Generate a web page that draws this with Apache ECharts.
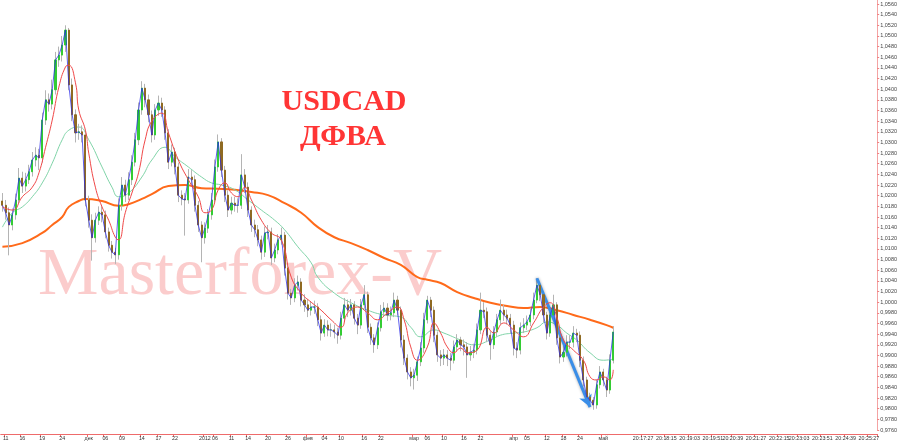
<!DOCTYPE html>
<html><head><meta charset="utf-8">
<script src="https://cdn.jsdelivr.net/npm/echarts@6/dist/echarts.min.js"></script>
<style>html,body{margin:0;padding:0;background:#fff}#c{width:900px;height:444px}</style>
</head><body><div id="c"></div>
<script>
// ---- data (H4 USDCAD) ----
const firstOpen = 1.0190;
const closes = [1.0182,1.0168,1.0145,1.0164,1.0192,1.0233,1.0218,1.0230,1.0245,1.0267,
1.0276,1.0271,1.0342,1.0380,1.0372,1.0399,1.0455,1.0464,1.0483,1.0511,
1.0408,1.0352,1.0318,1.0320,1.0314,1.0192,1.0154,1.0121,1.0154,1.0169,
1.0164,1.0132,1.0107,1.0094,1.0089,1.0182,1.0220,1.0201,1.0230,1.0263,
1.0305,1.0361,1.0402,1.0380,1.0352,1.0314,1.0361,1.0374,1.0361,1.0318,
1.0263,1.0282,1.0254,1.0201,1.0194,1.0192,1.0235,1.0230,1.0182,1.0145,
1.0121,1.0139,1.0164,1.0192,1.0254,1.0301,1.0248,1.0201,1.0173,1.0186,
1.0182,1.0182,1.0239,1.0216,1.0173,1.0145,1.0136,1.0117,1.0094,1.0130,
1.0132,1.0083,1.0098,1.0117,1.0126,1.0064,1.0017,1.0008,1.0032,1.0038,
1.0004,0.9995,0.9985,0.9991,0.9991,0.9967,0.9942,0.9957,0.9948,0.9948,
0.9944,0.9938,0.9970,0.9995,0.9985,0.9995,0.9970,0.9957,0.9995,1.0014,
0.9953,0.9933,0.9920,0.9952,0.9982,0.9989,0.9976,0.9980,1.0004,0.9985,
0.9929,0.9895,0.9869,0.9858,0.9863,0.9888,0.9914,0.9967,1.0004,0.9985,
0.9938,0.9901,0.9895,0.9901,0.9895,0.9891,0.9916,0.9929,0.9920,0.9916,
0.9901,0.9906,0.9910,0.9948,0.9985,0.9982,0.9938,0.9920,0.9944,0.9967,
0.9985,0.9976,0.9970,0.9957,0.9914,0.9910,0.9952,0.9957,0.9963,0.9976,
1.0004,1.0032,1.0014,0.9976,0.9942,0.9976,0.9995,0.9933,0.9897,0.9906,
0.9925,0.9925,0.9942,0.9938,0.9891,0.9854,0.9822,0.9816,0.9807,0.9845,
0.9869,0.9854,0.9835,0.9891,0.9944];
const highs = [1.0205,1.0192,1.0178,1.0176,1.0204,1.0252,1.0245,1.0243,1.0258,1.0282,
1.0291,1.0288,1.0356,1.0398,1.0392,1.0418,1.0470,1.0480,1.0500,1.0520,
1.0515,1.0420,1.0362,1.0335,1.0332,1.0322,1.0200,1.0165,1.0168,1.0180,
1.0180,1.0172,1.0140,1.0115,1.0102,1.0195,1.0235,1.0230,1.0244,1.0276,
1.0318,1.0375,1.0415,1.0410,1.0390,1.0360,1.0372,1.0388,1.0384,1.0368,
1.0325,1.0296,1.0290,1.0262,1.0210,1.0205,1.0250,1.0248,1.0238,1.0190,
1.0152,1.0150,1.0175,1.0205,1.0268,1.0315,1.0308,1.0256,1.0210,1.0198,
1.0198,1.0195,1.0278,1.0250,1.0225,1.0180,1.0155,1.0145,1.0125,1.0142,
1.0145,1.0140,1.0110,1.0128,1.0140,1.0132,1.0072,1.0025,1.0045,1.0050,
1.0045,1.0015,1.0005,1.0002,1.0003,0.9998,0.9975,0.9968,0.9966,0.9960,
0.9958,0.9952,0.9982,1.0008,1.0005,1.0006,1.0002,0.9978,1.0006,1.0032,
1.0020,0.9960,0.9940,0.9962,0.9995,1.0000,0.9998,0.9992,1.0018,1.0012,
0.9992,0.9938,0.9902,0.9878,0.9875,0.9898,0.9925,0.9980,1.0012,1.0010,
0.9992,0.9945,0.9910,0.9912,0.9910,0.9905,0.9928,0.9940,0.9935,0.9930,
0.9925,0.9918,0.9922,0.9960,1.0018,1.0000,0.9990,0.9945,0.9955,0.9978,
1.0005,0.9995,0.9986,0.9978,0.9965,0.9925,0.9962,0.9970,0.9975,0.9988,
1.0018,1.0045,1.0038,1.0020,0.9982,0.9990,1.0014,1.0000,0.9940,0.9918,
0.9938,0.9938,0.9955,0.9950,0.9945,0.9898,0.9860,0.9830,0.9822,0.9855,
0.9880,0.9875,0.9860,0.9902,0.9955];
const lows = [1.0170,1.0155,1.0088,1.0135,1.0155,1.0185,1.0205,1.0208,1.0222,1.0236,
1.0255,1.0248,1.0262,1.0333,1.0358,1.0362,1.0390,1.0442,1.0452,1.0470,
1.0398,1.0340,1.0300,1.0305,1.0300,1.0180,1.0140,1.0078,1.0112,1.0145,
1.0150,1.0120,1.0095,1.0082,1.0072,1.0080,1.0172,1.0188,1.0192,1.0220,
1.0255,1.0295,1.0352,1.0366,1.0338,1.0300,1.0305,1.0350,1.0348,1.0305,
1.0250,1.0255,1.0240,1.0188,1.0182,1.0125,1.0185,1.0218,1.0170,1.0132,
1.0075,1.0110,1.0130,1.0155,1.0185,1.0245,1.0235,1.0188,1.0160,1.0165,
1.0170,1.0168,1.0175,1.0205,1.0160,1.0132,1.0122,1.0105,1.0080,1.0085,
1.0118,1.0070,1.0075,1.0090,1.0108,1.0050,1.0005,0.9995,1.0000,1.0022,
0.9992,0.9982,0.9972,0.9975,0.9978,0.9955,0.9928,0.9935,0.9936,0.9935,
0.9932,0.9922,0.9930,0.9962,0.9972,0.9975,0.9958,0.9940,0.9950,0.9988,
0.9942,0.9920,0.9905,0.9912,0.9945,0.9972,0.9965,0.9966,0.9972,0.9975,
0.9915,0.9882,0.9855,0.9842,0.9836,0.9852,0.9880,0.9905,0.9960,0.9972,
0.9925,0.9888,0.9880,0.9882,0.9880,0.9872,0.9885,0.9908,0.9908,0.9900,
0.9858,0.9890,0.9895,0.9902,0.9940,0.9970,0.9925,0.9892,0.9912,0.9935,
0.9958,0.9965,0.9958,0.9942,0.9900,0.9895,0.9902,0.9942,0.9948,0.9955,
0.9968,0.9998,1.0002,0.9962,0.9930,0.9935,0.9968,0.9920,0.9885,0.9888,
0.9898,0.9912,0.9915,0.9925,0.9878,0.9842,0.9810,0.9805,0.9798,0.9800,
0.9838,0.9842,0.9822,0.9828,0.9885];

// moving averages read at sample bars: [barIndex, value]
const maOrange = [[0,1.0104],[6,1.0111],[12,1.0130],[15,1.0145],[18,1.0160],[20,1.0179],[23,1.0190],[25,1.0194],
[30,1.0190],[35,1.0181],[38,1.0184],[42,1.0194],[45,1.0203],[50,1.0218],[55,1.0220],[60,1.0214],[65,1.0213],
[70,1.0211],[75,1.0207],[80,1.0201],[85,1.0186],[90,1.0168],[95,1.0141],[100,1.0122],[105,1.0111],[110,1.0098],
[115,1.0083],[120,1.0070],[125,1.0047],[128,1.0042],[132,1.0036],[137,1.0019],[142,1.0008],[147,0.9999],
[152,0.9993],[157,0.9989],[162,0.9991],[167,0.9985],[172,0.9976],[177,0.9967],[182,0.9957],[184,0.9952]];
const maTeal = [[0,1.0141],[3,1.0168],[6,1.0179],[9,1.0198],[12,1.0224],[15,1.0261],[18,1.0305],[20,1.0323],
[23,1.0329],[26,1.0305],[30,1.0254],[33,1.0216],[35,1.0198],[38,1.0205],[42,1.0235],[45,1.0267],[49,1.0291],
[52,1.0273],[56,1.0254],[60,1.0235],[63,1.0224],[66,1.0220],[70,1.0211],[74,1.0192],[78,1.0173],[82,1.0154],
[85,1.0136],[89,1.0104],[93,1.0074],[95,1.0047],[100,1.0017],[105,0.9999],[110,0.9985],[115,0.9976],[120,0.9972],
[123,0.9953],[126,0.9935],[130,0.9948],[133,0.9942],[138,0.9929],[142,0.9920],[147,0.9929],[150,0.9938],
[154,0.9942],[157,0.9944],[161,0.9952],[164,0.9963],[167,0.9957],[170,0.9942],[173,0.9929],[177,0.9905],
[181,0.9891],[184,0.9893]];
const maRed = [[0,1.0179],[3,1.0173],[6,1.0198],[9,1.0216],[11,1.0243],[13,1.0291],[15,1.0342],[17,1.0404],
[19,1.0442],[20,1.0445],[22,1.0412],[23,1.0361],[25,1.0323],[26,1.0280],[28,1.0216],[30,1.0179],[32,1.0154],
[34,1.0122],[35,1.0117],[37,1.0168],[39,1.0205],[41,1.0243],[43,1.0305],[45,1.0340],[48,1.0355],[50,1.0318],
[53,1.0267],[56,1.0230],[59,1.0198],[61,1.0168],[63,1.0173],[65,1.0211],[67,1.0224],[69,1.0205],[71,1.0198],
[73,1.0216],[75,1.0192],[78,1.0154],[81,1.0130],[84,1.0117],[87,1.0047],[90,1.0017],[93,1.0000],[96,0.9985],
[99,0.9967],[102,0.9953],[104,0.9980],[107,0.9991],[110,0.9980],[113,0.9967],[116,0.9980],[119,0.9991],
[121,0.9967],[123,0.9916],[125,0.9891],[128,0.9916],[130,0.9961],[132,0.9942],[134,0.9916],[136,0.9905],
[138,0.9914],[140,0.9905],[143,0.9910],[146,0.9953],[148,0.9942],[151,0.9961],[154,0.9948],[157,0.9935],
[160,0.9961],[163,0.9991],[165,0.9999],[167,0.9972],[169,0.9929],[172,0.9910],[175,0.9891],[177,0.9860],
[179,0.9854],[181,0.9860],[183,0.9854],[184,0.9873]];

const totalBars = 264;
const xLabelIdx = [1,6,12,18,26,31,36,42,47,52,61,64,69,74,80,86,92,97,102,109,114,124,128,133,139,144,154,158,164,169,174,181,
193,200,207,214,220,227,234,240,247,254,261];
const xLabelText = ['11','16','19','24','дек','06','09','14','17','22','2012','06','11','14','20','26','фев','04','10','16','22','мар','06','10','16','22','апр','05','12','18','24','май',
'20:17:27','20:18:15','20:19:03','20:19:51','20:20:39','20:21:27','20:22:15','20:23:03','20:23:51','20:24:39','20:25:27'];

const tagMA = 0.9952;     // orange price tag
const tagBid = 0.9942;    // green price tag
const arrowFrom = [161, 1.0045];
const arrowTo = [177, 0.9803];

// ---- build ----
const labelMap = {};
xLabelIdx.forEach((k, j) => { labelMap[k] = xLabelText[j]; });
const cats = Array.from({length: totalBars}, (_, i) => String(i));
const opens = closes.map((c, i) => i === 0 ? firstOpen : closes[i - 1]);
const candleFull = closes.map((c, i) => [opens[i], c, lows[i], highs[i]]);
const candleBody = closes.map((c, i) => [opens[i], c, Math.min(opens[i], c), Math.max(opens[i], c)]);
const fmt = v => v.toFixed(4).replace('.', ',');

const chart = echarts.init(document.getElementById('c'), null, {renderer: 'canvas'});
chart.setOption({
  animation: false,
  backgroundColor: '#ffffff',
  textStyle: {fontFamily: 'Liberation Sans'},
  grid: {left: 0, right: 22, top: 0, bottom: 14},
  xAxis: {
    type: 'category', data: cats, boundaryGap: true, offset: 4,
    axisLine: {show: true, lineStyle: {color: '#ee6b6b', width: 1}},
    axisTick: {show: true, length: 3, interval: (i) => labelMap[i] !== undefined, lineStyle: {color: '#ee6b6b'}},
    axisLabel: {show: true, interval: (i) => labelMap[i] !== undefined, formatter: (v, i) => labelMap[i] || '',
      fontSize: 5.3, color: '#333', margin: 2, hideOverlap: false, showMinLabel: true, showMaxLabel: true},
    splitLine: {show: false}
  },
  yAxis: {
    type: 'value', position: 'right', min: 0.9760, max: 1.05675, interval: 0.002, scale: true,
    axisLine: {show: true, lineStyle: {color: '#f4a3a3', width: 1}},
    axisTick: {show: true, length: 2, lineStyle: {color: '#f08080'}},
    axisLabel: {fontSize: 5.5, color: '#444', margin: 3, formatter: fmt, showMaxLabel: false},
    splitLine: {show: false}
  },
  graphic: [
    {type: 'text', z: 0, x: 38, y: 276, style: {text: 'Masterforex-V', font: '68px "Liberation Serif"', fill: 'rgba(249,172,172,0.62)', verticalAlign: 'middle'}},
    {type: 'text', z: 100, x: 344, y: 102, style: {text: 'USDCAD', font: 'bold 30px "Liberation Serif"', fill: '#ff3535', align: 'center', verticalAlign: 'middle'}},
    {type: 'text', z: 100, x: 343, y: 137, style: {text: 'ДФВА', font: 'bold 30px "Liberation Serif"', fill: '#ff3535', align: 'center', verticalAlign: 'middle'}}
  ],
  series: [
    {type: 'line', name: 'MA200', data: maOrange, smooth: true, symbol: 'none',
      lineStyle: {color: '#ff6a1a', width: 2}, z: 3},
    {type: 'line', name: 'MA55', data: maTeal, smooth: true, symbol: 'none',
      lineStyle: {color: '#7fd4a8', width: 1}, z: 3},
    {type: 'candlestick', name: 'wick', data: candleFull, barWidth: 1, z: 4,
      itemStyle: {color: '#b4b4b4', color0: '#b4b4b4', borderColor: '#b4b4b4', borderColor0: '#b4b4b4', borderWidth: 1}},
    {type: 'candlestick', name: 'body', data: candleBody, barWidth: 1.6, z: 5,
      itemStyle: {color: '#33cc33', color0: '#8f6a22', borderColor: '#33cc33', borderColor0: '#8f6a22', borderWidth: 1},
      markLine: {silent: true, symbol: 'none', animation: false,
        data: [
          {yAxis: tagMA, lineStyle: {opacity: 0}, label: {show: true, position: 'end', distance: 1, formatter: () => fmt(tagMA),
            backgroundColor: '#ff6a1a', color: '#fff', fontSize: 5.5, padding: [1, 2]}},
          {yAxis: tagBid, lineStyle: {opacity: 0}, label: {show: true, position: 'end', distance: 1, formatter: () => fmt(tagBid),
            backgroundColor: '#22c922', color: '#fff', fontSize: 5.5, padding: [1, 2]}}
        ]}},
    {type: 'line', name: 'close', data: closes, symbol: 'none', lineStyle: {color: '#2a2ae8', width: 1, opacity: 0.75}, z: 6},
    {type: 'line', name: 'MA21', data: maRed, smooth: true, symbol: 'none',
      lineStyle: {color: '#f04848', width: 1}, z: 7,
      markLine: {silent: true, symbol: ['none', 'arrow'], symbolSize: [10, 12], animation: false,
        lineStyle: {color: '#3a8ee8', width: 3, type: 'solid', shadowColor: 'rgba(0,0,0,0.35)', shadowBlur: 3},
        label: {show: false},
        data: [[{coord: arrowFrom}, {coord: arrowTo}]]}}
  ]
});
</script>
</body></html>
